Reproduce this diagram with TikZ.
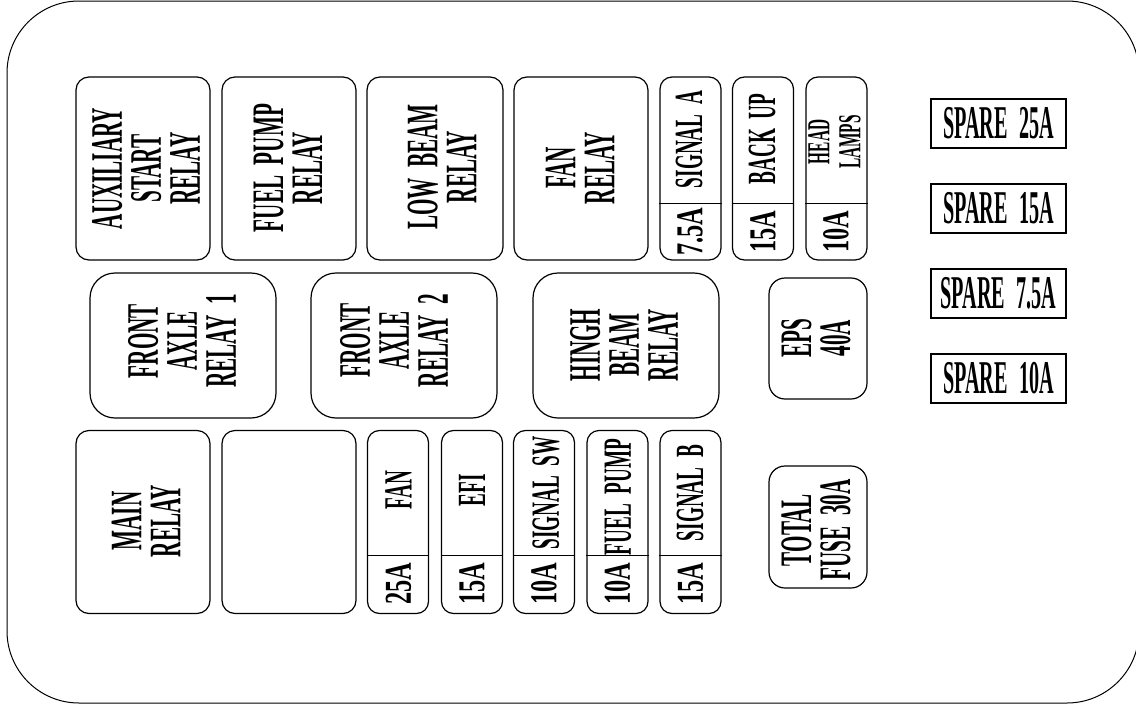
\documentclass[tikz,border=0pt]{standalone}
\usepackage{fontspec}
\newfontfamily\cadrelay[FakeStretch=0.47,WordSpace=2]{Liberation Serif Bold}
\newfontfamily\cadfuse[FakeStretch=0.48,WordSpace=2]{Liberation Serif Bold}
\newfontfamily\cadval[FakeStretch=0.64]{Liberation Serif Bold}
\newfontfamily\cadspare[FakeStretch=0.43,WordSpace=2.2]{Liberation Serif Bold}
\tikzset{
  boxline/.style={draw=black, line width=1.2pt},
  relay/.style={boxline, rounded corners=13pt, inner sep=0pt},
  bigrelay/.style={boxline, rounded corners=25pt, inner sep=0pt},
  midrelay/.style={boxline, rounded corners=16pt, inner sep=0pt},
  fusebox/.style={boxline, rounded corners=12pt, inner sep=0pt, minimum width=61pt},
  sparebox/.style={boxline, inner sep=0pt, minimum width=135pt, minimum height=49pt,
     font={\cadspare\fontsize{47}{47}\selectfont}},
  rtxt/.style={rotate=90, align=center, inner sep=0pt, font={\cadrelay\fontsize{45}{39}\selectfont}},
  ftxt/.style={rotate=90, align=center, inner sep=0pt, font={\cadfuse\fontsize{40}{40}\selectfont}},
  vtxt/.style={rotate=90, align=center, inner sep=0pt, font={\cadval\fontsize{38}{38}\selectfont}},
  stxt/.style={rotate=90, align=center, inner sep=0pt, font={\cadfuse\fontsize{32}{31}\selectfont}},
}
\begin{document}
\begin{tikzpicture}[x=1pt,y=-1pt]
\useasboundingbox (0,0) rectangle (1136,707);
% outer frame
\draw[line width=1pt, rounded corners=72pt] (7,1) rectangle (1139,703);

% ---- top row relays
\node[relay, minimum width=134pt, minimum height=183pt] (aux) at (143,168.5) {};
\node[rtxt] (auxt) at (146,168.5) {AUXILIARY\\START\\RELAY};
\node[relay, minimum width=134pt, minimum height=183pt] (fpr) at (289,168.5) {};
\node[rtxt] (fprt) at (288,168) {FUEL PUMP\\RELAY};
\node[relay, minimum width=136pt, minimum height=183pt] (lbr) at (435,168.5) {};
\node[rtxt] (lbrt) at (442,167) {LOW BEAM\\RELAY};
\node[relay, minimum width=134pt, minimum height=183pt] (fanr) at (581,168.5) {};
\node[rtxt] (fanrt) at (580,168) {FAN\\RELAY};

% ---- top row fuses
\node[fusebox, minimum height=183pt] (siga) at (690.5,168.5) {};
\draw[line width=1pt] (siga.west |- 0,203) -- (siga.east |- 0,203);
\node[ftxt] (sigat) at (689,139.5) {SIGNAL A};
\node[vtxt] (sigav) at (690,231.5) {7.5A};

\node[fusebox, minimum height=183pt] (bup) at (763,168.5) {};
\draw[line width=1pt] (bup.west |- 0,203) -- (bup.east |- 0,203);
\node[ftxt] (bupt) at (762,139) {BACK UP};
\node[vtxt] (bupv) at (763,231.5) {15A};

\node[fusebox, minimum height=183pt] (hl) at (836.5,168.5) {};
\draw[line width=1pt] (hl.west |- 0,203) -- (hl.east |- 0,203);
\node[stxt] (hlt) at (834.5,142) {HEAD\\LAMPS};
\node[vtxt] (hlv) at (836,231.5) {10A};

% ---- middle row
\node[bigrelay, minimum width=186pt, minimum height=145pt] (fa1) at (183,345.5) {};
\node[rtxt] (fa1t) at (182,341) {FRONT\\AXLE\\RELAY 1};
\node[bigrelay, minimum width=186pt, minimum height=145pt] (fa2) at (404,345.5) {};
\node[rtxt] (fa2t) at (394,340.5) {FRONT\\AXLE\\RELAY 2};
\node[bigrelay, minimum width=186pt, minimum height=145pt] (hb) at (626,345.5) {};
\node[rtxt] (hbt) at (624,345) {HINGH\\BEAM\\RELAY};
\node[midrelay, minimum width=98pt, minimum height=121pt] (eps) at (818,338.5) {};
\node[rtxt] (epst) at (816,338) {EPS\\40A};

% ---- bottom row
\node[relay, minimum width=134pt, minimum height=183pt] (main) at (143,522) {};
\node[rtxt] (maint) at (146,521) {MAIN\\RELAY};
\node[relay, minimum width=134pt, minimum height=183pt] (blank) at (289,522) {};

\node[fusebox, minimum height=183pt] (fanf) at (398,522) {};
\draw[line width=1pt] (fanf.west |- 0,555) -- (fanf.east |- 0,555);
\node[ftxt] (fanft) at (398.5,490) {FAN};
\node[vtxt] (fanfv) at (398.5,584) {25A};

\node[fusebox, minimum height=183pt] (efi) at (472,522) {};
\draw[line width=1pt] (efi.west |- 0,555) -- (efi.east |- 0,555);
\node[ftxt] (efit) at (472,490) {EFI};
\node[vtxt] (efiv) at (472,584) {15A};

\node[fusebox, minimum height=183pt] (ssw) at (544,522) {};
\draw[line width=1pt] (ssw.west |- 0,555) -- (ssw.east |- 0,555);
\node[ftxt] (sswt) at (546,493) {SIGNAL SW};
\node[vtxt] (sswv) at (544,584) {10A};

\node[fusebox, minimum height=183pt] (fpf) at (617.5,522) {};
\draw[line width=1pt] (fpf.west |- 0,555) -- (fpf.east |- 0,555);
\node[ftxt] (fpft) at (618,497) {FUEL PUMP};
\node[vtxt] (fpfv) at (617.5,584) {10A};

\node[fusebox, minimum height=183pt] (sigb) at (690.5,522) {};
\draw[line width=1pt] (sigb.west |- 0,555) -- (sigb.east |- 0,555);
\node[ftxt] (sigbt) at (690,493) {SIGNAL B};
\node[vtxt] (sigbv) at (690.5,584) {15A};

\node[midrelay, minimum width=98pt, minimum height=122pt] (tot) at (818,527) {};
\node[rtxt] (tott) at (816,530) {TOTAL\\FUSE 30A};

% ---- spare fuses
\node[sparebox] (sp25) at (998.5,123.5) {SPARE 25A};
\node[sparebox] (sp15) at (998.5,208.5) {SPARE 15A};
\node[sparebox] (sp75) at (998.5,293.5) {SPARE 7.5A};
\node[sparebox] (sp10) at (998.5,378.5) {SPARE 10A};
\end{tikzpicture}
\end{document}
